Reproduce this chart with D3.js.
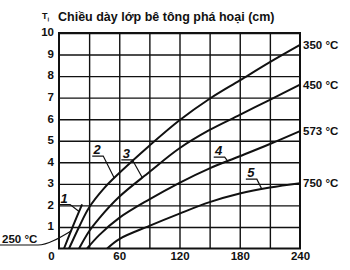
<!DOCTYPE html>
<html>
<head>
<meta charset="utf-8">
<script src="https://cdn.jsdelivr.net/npm/d3@7"></script>
<style>
  body { margin: 0; background: #fff; }
  text { font-family: "Liberation Sans", Arial, sans-serif; fill: #111; }
</style>
</head>
<body>
<div id="chart"></div>
<script>
// time (min) and depth (cm), one pair of arrays per curve
const curve1Time = [5, 14, 23];
const curve1Depth = [0, 1.05, 2.05];
const curve2Time = [10, 20, 30, 45, 60, 90, 120, 150, 180, 210, 240];
const curve2Depth = [0, 1.0, 1.9, 2.8, 3.5, 4.77, 5.95, 6.95, 7.8, 8.65, 9.45];
const curve3Time = [20, 30, 40, 60, 90, 120, 150, 180, 210, 240];
const curve3Depth = [0, 0.8, 1.4, 2.4, 3.55, 4.65, 5.5, 6.2, 6.9, 7.6];
const curve4Time = [28, 40, 60, 90, 120, 150, 180, 210, 240];
const curve4Depth = [0, 0.62, 1.42, 2.28, 3.05, 3.72, 4.28, 4.85, 5.45];
const curve5Time = [48, 60, 90, 120, 150, 180, 210, 240];
const curve5Depth = [0, 0.44, 1.05, 1.62, 2.15, 2.55, 2.83, 3.03];

const curveNames = ['1', '2', '3', '4', '5'];
const curveTemps = ['250 °C', '350 °C', '450 °C', '573 °C', '750 °C'];
// where each number's leader touches its curve (min)
const leaderTimes = [20, 55, 83, 168, 202];

const xLabels = [0, 60, 120, 180, 240];
const xGrid = [30, 60, 90, 120, 150, 180, 210];
const yLabels = [1, 2, 3, 4, 5, 6, 7, 8, 9, 10];
const title = 'Chiều dày lớp bê tông phá hoại (cm)';

const w = 350;
const h = 270;

const curves = [
  [curve1Time, curve1Depth],
  [curve2Time, curve2Depth],
  [curve3Time, curve3Depth],
  [curve4Time, curve4Depth],
  [curve5Time, curve5Depth]
].map(([t, v]) => t.map((d, i) => ({ t: d, v: v[i] })));

const xScale = d3.scaleLinear().domain([0, 240]).range([59, 300]);
const yScale = d3.scaleLinear().domain([0, 10]).range([248.5, 33]);

const svg = d3.select('#chart')
  .append('svg')
  .attr('width', w)
  .attr('height', h);

// horizontal grid + y labels
const yAxis = svg.append('g')
  .attr('transform', `translate(${xScale(0)},0)`)
  .call(d3.axisLeft(yScale)
    .tickValues(yLabels)
    .tickSize(-(xScale(240) - xScale(0)))
    .tickPadding(5)
    .tickFormat(d3.format('d')));
yAxis.select('.domain').remove();
yAxis.selectAll('line').attr('stroke', '#111').attr('stroke-width', 1.4);
yAxis.selectAll('text')
  .attr('dy', '0.25em')
  .style('font-family', '"Liberation Sans", Arial, sans-serif')
  .style('font-size', '11.5px')
  .style('font-weight', 'bold')
  .attr('fill', '#111');

// vertical grid
const xGridAxis = svg.append('g')
  .attr('transform', `translate(0,${yScale(0)})`)
  .call(d3.axisBottom(xScale)
    .tickValues(xGrid)
    .tickSize(-(yScale(0) - yScale(10)))
    .tickFormat(''));
xGridAxis.select('.domain').remove();
xGridAxis.selectAll('line').attr('stroke', '#111').attr('stroke-width', 1.4);

// x labels
const xAxis = svg.append('g')
  .attr('transform', `translate(0,${yScale(0)})`)
  .call(d3.axisBottom(xScale)
    .tickValues(xLabels)
    .tickSize(0)
    .tickPadding(3)
    .tickFormat(d3.format('d')));
xAxis.select('.domain').remove();
xAxis.selectAll('text')
  .attr('dx', (d) => d === 0 ? -8 : 0)
  .style('font-family', '"Liberation Sans", Arial, sans-serif')
  .style('font-size', '11.5px')
  .style('font-weight', 'bold')
  .attr('fill', '#111');

// frame
svg.append('rect')
  .attr('x', xScale(0))
  .attr('y', yScale(10))
  .attr('width', xScale(240) - xScale(0))
  .attr('height', yScale(0) - yScale(10))
  .attr('fill', 'none')
  .attr('stroke', '#111')
  .attr('stroke-width', 2);

// curves
const line = d3.line()
  .x((d) => xScale(d.t))
  .y((d) => yScale(d.v))
  .curve(d3.curveCatmullRom.alpha(0.5));

svg.selectAll('.curve')
  .data(curves)
  .enter()
  .append('path')
  .attr('class', 'curve')
  .attr('d', line)
  .attr('fill', 'none')
  .attr('stroke', '#111')
  .attr('stroke-width', 2);

// depth on a curve at time t (linear between read points)
function depthAt(pts, t) {
  const i = Math.max(1, d3.bisector((d) => d.t).left(pts, t));
  const a = pts[i - 1], b = pts[Math.min(i, pts.length - 1)];
  if (b.t === a.t) return a.v;
  return a.v + (b.v - a.v) * (t - a.t) / (b.t - a.t);
}

// curve numbers: underlined italic digit + leader to the curve
const labelOffsets = [[-9, -7], [-11, -22], [-10, -18], [-3, -4], [-5, -10]];
curves.forEach((pts, i) => {
  const px = xScale(leaderTimes[i]);
  const py = yScale(depthAt(pts, leaderTimes[i]));
  const ux = px + labelOffsets[i][0];
  const uy = py + labelOffsets[i][1];
  svg.append('path')
    .attr('d', `M${ux - 11},${uy}L${ux},${uy}L${px},${py}`)
    .attr('fill', 'none')
    .attr('stroke', '#111')
    .attr('stroke-width', 1.2);
  svg.append('text')
    .attr('x', ux - 6)
    .attr('y', uy - 2)
    .attr('text-anchor', 'middle')
    .style('font-size', '13px')
    .style('font-weight', 'bold')
    .style('font-style', 'italic')
    .text(curveNames[i]);
});

// temperature labels at the right end of curves 2-5
curves.slice(1).forEach((pts, i) => {
  const last = pts[pts.length - 1];
  svg.append('text')
    .attr('x', xScale(last.t) + 3)
    .attr('y', yScale(last.v) + 4)
    .style('font-size', '11.5px')
    .style('font-weight', 'bold')
    .text(curveTemps[i + 1]);
});

// 250 °C label with its leader to curve 1
const c1x = xScale(12);
const c1y = yScale(depthAt(curves[0], 12));
svg.append('path')
  .attr('d', `M0,245L38,245C48,245 ${c1x - 10},${c1y + 6} ${c1x},${c1y}`)
  .attr('fill', 'none')
  .attr('stroke', '#111')
  .attr('stroke-width', 1.2);
svg.append('text')
  .attr('x', 2)
  .attr('y', 243)
  .style('font-size', '11.5px')
  .style('font-weight', 'bold')
  .text(curveTemps[0]);

// title
const head = svg.append('text')
  .attr('x', 42)
  .attr('y', 19)
  .style('font-size', '9px')
  .style('font-weight', 'bold');
head.append('tspan').text('T');
head.append('tspan').attr('font-size', '6px').attr('dy', 2).text('ị');
svg.append('text')
  .attr('x', 58)
  .attr('y', 21)
  .style('font-size', '12.5px')
  .style('font-weight', 'bold')
  .text(title);
</script>
</body>
</html>
